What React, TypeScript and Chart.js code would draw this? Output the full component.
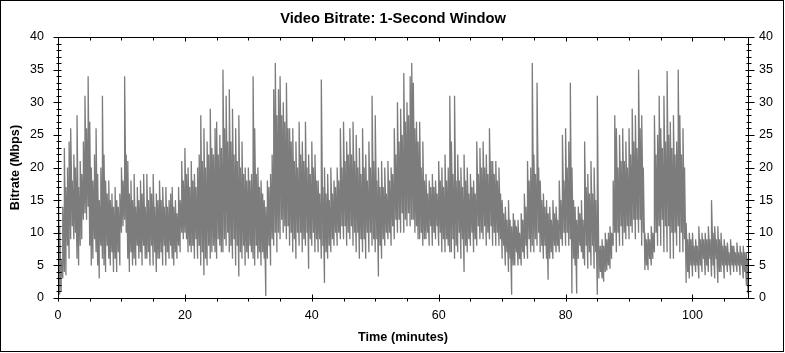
import React, { useEffect, useRef } from "react";
import { Chart, registerables } from "chart.js";

Chart.register(...registerables);

// Each slot covers 0.25 minute; for every slot the low and high bitrate seen in it
const slotMinutes = 0.25;

// [low, high] Mbps per slot, 4 slots per minute
const bitrateRange: number[][] = [
  /* 0 */ [10, 24], [0.5, 11], [1, 6], [3, 14],
  /* 1 */ [4, 23], [3.5, 17], [8, 20], [6, 24],
  /* 2 */ [9, 26], [11, 18], [9, 22], [10, 20],
  /* 3 */ [6, 28], [5, 17], [8, 21], [9, 19],
  /* 4 */ [12, 24], [13, 31], [12, 26], [14, 34],
  /* 5 */ [8, 27], [5, 20], [6, 18], [9, 22],
  /* 6 */ [7, 26], [5, 19], [3, 15], [8, 20],
  /* 7 */ [6, 31], [5, 22], [4, 18], [8, 16],
  /* 8 */ [6, 18], [5, 15], [7, 16], [4, 14],
  /* 9 */ [6, 17], [4, 15], [7, 14], [5, 16],
  /* 10 */ [10, 20], [11, 18], [12, 34], [10, 22],
  /* 11 */ [6, 21], [4, 16], [7, 18], [5, 15],
  /* 12 */ [6, 19], [5, 14], [8, 17], [6, 15],
  /* 13 */ [7, 18], [5, 16], [8, 19], [6, 14],
  /* 14 */ [6, 19], [7, 15], [5, 17], [8, 16],
  /* 15 */ [5, 19], [7, 14], [4, 16], [6, 15],
  /* 16 */ [6, 18], [7, 15], [5, 17], [8, 14],
  /* 17 */ [5, 17], [7, 14], [6, 15], [8, 16],
  /* 18 */ [6, 17], [5, 14], [7, 15], [6, 13],
  /* 19 */ [8, 17], [7, 15], [10, 21], [9, 18],
  /* 20 */ [10, 23], [9, 19], [7, 20], [8, 17],
  /* 21 */ [7, 21], [8, 18], [6, 19], [9, 17],
  /* 22 */ [6, 20], [8, 22], [5, 28], [7, 21],
  /* 23 */ [3.5, 26], [6, 20], [5, 24], [8, 22],
  /* 24 */ [6, 29], [7, 23], [8, 22], [7, 26],
  /* 25 */ [6, 27], [9, 22], [8, 25], [7, 23],
  /* 26 */ [7, 35], [9, 26], [8, 31], [10, 24],
  /* 27 */ [7, 32], [8, 24], [6, 29], [9, 22],
  /* 28 */ [5, 26], [8, 21], [3.3, 28], [7, 20],
  /* 29 */ [6, 24], [8, 19], [5, 20], [7, 18],
  /* 30 */ [6, 20], [8, 18], [7, 19], [6, 34],
  /* 31 */ [5, 26], [8, 19], [6, 20], [7, 17],
  /* 32 */ [5, 18], [7, 16], [6, 15], [0.3, 14],
  /* 33 */ [6, 18], [8, 17], [5, 19], [9, 22],
  /* 34 */ [8, 32], [10, 36], [7, 28], [10, 32],
  /* 35 */ [9, 34], [12, 28], [10, 30], [11, 27],
  /* 36 */ [9, 33], [11, 26], [8, 26], [10, 24],
  /* 37 */ [7, 26], [9, 21], [6, 24], [10, 20],
  /* 38 */ [8, 27], [10, 22], [7, 24], [9, 21],
  /* 39 */ [8, 27], [10, 20], [4.5, 22], [9, 19],
  /* 40 */ [8, 24], [10, 20], [7, 22], [9, 18],
  /* 41 */ [7, 18], [9, 16], [6, 33.5], [8, 17],
  /* 42 */ [2.3, 20], [7, 16], [6, 19], [8, 15],
  /* 43 */ [7, 20], [9, 16], [8, 18], [10, 17],
  /* 44 */ [8, 20], [10, 18], [9, 26], [11, 20],
  /* 45 */ [9, 27], [11, 21], [8, 24], [10, 22],
  /* 46 */ [9, 26], [11, 22], [8, 27], [10, 21],
  /* 47 */ [7, 25], [10, 20], [6, 23], [9, 19],
  /* 48 */ [7, 26], [9, 20], [6, 22], [10, 18],
  /* 49 */ [7, 24], [10, 20], [8, 31], [9, 21],
  /* 50 */ [7, 28], [9, 18], [3.3, 20], [8, 17],
  /* 51 */ [6, 21], [9, 17], [8, 20], [10, 16],
  /* 52 */ [9, 21], [10, 18], [8, 20], [11, 19],
  /* 53 */ [9, 26], [12, 22], [10, 30], [12, 24],
  /* 54 */ [10, 29], [13, 25], [10, 34.5], [12, 27],
  /* 55 */ [11, 30], [13, 28], [11, 34], [12, 36],
  /* 56 */ [12, 33], [10, 26], [11, 27], [9, 24],
  /* 57 */ [9, 27], [10, 20], [8, 24], [9, 18],
  /* 58 */ [9, 19], [10, 16], [8, 18], [11, 17],
  /* 59 */ [8, 19], [10, 17], [9, 18], [11, 16],
  /* 60 */ [8, 21], [10, 18], [7, 20], [9, 17],
  /* 61 */ [7, 22], [9, 18], [8, 20], [7, 31],
  /* 62 */ [7, 24], [9, 19], [6, 31], [8, 18],
  /* 63 */ [7, 22], [10, 18], [6, 20], [9, 17],
  /* 64 */ [4, 22], [8, 18], [7, 20], [9, 16],
  /* 65 */ [8, 19], [10, 17], [7, 18], [9, 16],
  /* 66 */ [8, 24], [11, 19], [9, 23], [10, 20],
  /* 67 */ [9, 24], [11, 20], [8, 22], [10, 19],
  /* 68 */ [9, 26], [11, 21], [8, 21], [10, 19],
  /* 69 */ [8, 21], [10, 18], [8, 20], [9, 16],
  /* 70 */ [6, 15], [8, 13], [5, 14], [7, 12],
  /* 71 */ [4, 15], [6, 12], [0.5, 11], [5, 13],
  /* 72 */ [5, 12], [7, 11], [5, 12], [6, 10],
  /* 73 */ [5, 13], [7, 12], [6, 16], [8, 14],
  /* 74 */ [6, 21], [9, 18], [7, 20], [8, 36],
  /* 75 */ [7, 22], [9, 19], [8, 33], [10, 20],
  /* 76 */ [7, 18], [8, 15], [6, 16], [8, 14],
  /* 77 */ [6, 15], [2.8, 13], [6, 14], [7, 12],
  /* 78 */ [6, 15], [8, 13], [7, 14], [8, 12],
  /* 79 */ [7, 18], [9, 15], [8, 25], [10, 18],
  /* 80 */ [8, 26], [10, 20], [8, 24], [9, 33],
  /* 81 */ [0.7, 20], [6, 15], [5, 14], [0.7, 12],
  /* 82 */ [6, 14], [8, 13], [7, 15], [6, 12],
  /* 83 */ [5, 24], [8, 17], [4.5, 19], [7, 16],
  /* 84 */ [5, 21], [8, 16], [4.5, 20], [7, 15],
  /* 85 */ [0.5, 31], [3, 8], [4, 8], [3, 9],
  /* 86 */ [2.5, 8], [4, 10], [4.2, 9], [5, 10],
  /* 87 */ [4.5, 11], [6, 10], [8, 18], [10, 28],
  /* 88 */ [7, 26], [10, 20], [8, 25], [11, 21],
  /* 89 */ [8, 26], [10, 21], [9, 24], [11, 20],
  /* 90 */ [9, 26], [11, 22], [10, 29], [12, 24],
  /* 91 */ [9, 28], [12, 23], [10, 35], [12, 26],
  /* 92 */ [8, 28], [10, 20], [4.3, 10], [5, 9],
  /* 93 */ [4.3, 10], [6, 9], [5, 11], [6, 10],
  /* 94 */ [7, 28], [10, 22], [8, 25], [11, 31],
  /* 95 */ [8, 26], [12, 23], [7, 31], [11, 24],
  /* 96 */ [7, 34.8], [11, 25], [6, 27], [10, 23],
  /* 97 */ [6, 28], [10, 22], [8, 24], [11, 35],
  /* 98 */ [7, 28], [10, 22], [7, 26], [9, 20],
  /* 99 */ [2.3, 11.5], [4, 9], [3, 10], [5, 9],
  /* 100 */ [3.3, 10], [5, 8], [4, 9], [5, 8],
  /* 101 */ [3, 11], [5, 9], [4, 10], [6, 9],
  /* 102 */ [3.5, 10], [5, 9], [4, 11], [6, 9],
  /* 103 */ [3.3, 15], [5, 10], [3, 11], [6, 9],
  /* 104 */ [2.3, 11], [4, 9], [4, 10], [5, 8],
  /* 105 */ [3, 9], [5, 8], [4, 8.5], [5, 7],
  /* 106 */ [3.5, 9], [5, 8], [4, 8], [5, 7],
  /* 107 */ [4, 8.5], [5, 7], [3.5, 8], [5, 7],
  /* 108 */ [3, 8], [4, 7], [2, 7], [0.7, 6],
];

const xTickValues: number[] = [0, 20, 40, 60, 80, 100];
const xMinorStep = 5;
const yTickValues: number[] = [0, 5, 10, 15, 20, 25, 30, 35, 40];
const yMinorStep = 1;
const xMax = 108.75;
const yMax = 40;

const titleText = "Video Bitrate: 1-Second Window";
const xTitleText = "Time (minutes)";
const yTitleText = "Bitrate (Mbps)";

const FONT = "'Liberation Sans', Arial, sans-serif";

const W = 785;
const H = 353;

const decorPlugin = {
  id: "decor",
  afterDraw(chart: any) {
    const ctx = chart.ctx as CanvasRenderingContext2D;
    const a = chart.chartArea;
    const xs = chart.scales.x;
    const ys = chart.scales.y;
    ctx.save();
    ctx.strokeStyle = "#000";
    ctx.lineWidth = 1;
    const L = Math.round(a.left) + 0.5;
    const R = Math.round(a.right) + 0.5;
    const T = Math.round(a.top) + 0.5;
    const B = Math.round(a.bottom) + 0.5;
    ctx.beginPath();
    ctx.rect(L, T, R - L, B - T);
    ctx.stroke();
    ctx.beginPath();
    for (let v = 0; v <= yMax + 1e-9; v += yMinorStep) {
      const py = Math.round(ys.getPixelForValue(v)) + 0.5;
      const major = v % 5 === 0;
      if (major) {
        ctx.moveTo(L - 5, py); ctx.lineTo(L + 3, py);
        ctx.moveTo(R - 3, py); ctx.lineTo(R + 6, py);
      } else {
        ctx.moveTo(L - 2, py); ctx.lineTo(L + 3, py);
        ctx.moveTo(R - 2, py); ctx.lineTo(R + 3, py);
      }
    }
    for (let v = 0; v <= xMax + 1e-9; v += xMinorStep) {
      const px = Math.round(xs.getPixelForValue(v)) + 0.5;
      const major = v % 20 === 0;
      if (major) {
        ctx.moveTo(px, B - 4); ctx.lineTo(px, B + 3);
        ctx.moveTo(px, T); ctx.lineTo(px, T + 4);
      } else {
        ctx.moveTo(px, B); ctx.lineTo(px, B + 3);
        ctx.moveTo(px, T); ctx.lineTo(px, T + 3);
      }
    }
    ctx.stroke();

    ctx.strokeRect(0.5, 0.5, W - 2, H - 2);

    ctx.fillStyle = "#000";
    ctx.textAlign = "center";
    ctx.textBaseline = "alphabetic";
    ctx.font = `bold 14.7px ${FONT}`;
    ctx.fillText(titleText, 393, 23);
    ctx.font = `bold 12.7px ${FONT}`;
    ctx.fillText(xTitleText, (a.left + a.right) / 2, 341);
    ctx.save();
    ctx.translate(19.3, (a.top + a.bottom) / 2);
    ctx.rotate(-Math.PI / 2);
    ctx.fillText(yTitleText, 0, 0);
    ctx.restore();
    ctx.restore();
  },
};

export default function App() {
  const ref = useRef<HTMLCanvasElement | null>(null);
  useEffect(() => {
    document.body.style.margin = "0";
    const canvas = ref.current;
    if (!canvas) return;
    // Each slot is drawn as a vertical stroke from its low up to its high value.
    const points: { x: number; y: number }[] = [];
    bitrateRange.forEach(([lo, hi], i) => {
      const x = i * slotMinutes;
      points.push({ x, y: lo }, { x, y: hi });
    });
    const tickFont = { family: FONT, size: 12.5 };
    const hiddenGrid = {
      display: true,
      drawOnChartArea: false,
      drawTicks: true,
      color: "rgba(0,0,0,0)",
    };
    const chart = new Chart(canvas, {
      type: "line",
      data: {
        datasets: [
          {
            data: points,
            borderColor: "#7c7c7c",
            borderWidth: 1.3,
            pointRadius: 0,
            tension: 0,
            fill: false,
          },
        ],
      },
      options: {
        animation: false,
        responsive: false,
        maintainAspectRatio: false,
        layout: { padding: { top: 37, left: 0, right: 0, bottom: 0 } },
        plugins: {
          legend: { display: false },
          tooltip: { enabled: false },
          title: { display: false },
        },
        scales: {
          x: {
            type: "linear",
            min: 0,
            max: xMax,
            afterBuildTicks: (s: any) => {
              s.ticks = xTickValues.map((v) => ({ value: v }));
            },
            ticks: { font: tickFont, color: "#000", padding: 6, maxRotation: 0, autoSkip: false },
            grid: { ...hiddenGrid, tickLength: 4 },
            border: { display: false },
            afterFit: (s: any) => {
              s.height = 55;
            },
          },
          y: {
            type: "linear",
            position: "left",
            min: 0,
            max: yMax,
            afterBuildTicks: (s: any) => {
              s.ticks = yTickValues.map((v) => ({ value: v }));
            },
            ticks: { font: tickFont, color: "#000", padding: 9 },
            grid: { ...hiddenGrid, tickLength: 5 },
            border: { display: false },
            afterFit: (s: any) => {
              s.width = 58;
            },
          },
          y2: {
            type: "linear",
            position: "right",
            min: 0,
            max: yMax,
            afterBuildTicks: (s: any) => {
              s.ticks = yTickValues.map((v) => ({ value: v }));
            },
            ticks: { font: tickFont, color: "#000", padding: 6 },
            grid: { ...hiddenGrid, tickLength: 5 },
            border: { display: false },
            afterFit: (s: any) => {
              s.width = W - 748;
            },
          },
        },
      },
      plugins: [decorPlugin],
    });
    return () => chart.destroy();
  }, []);
  return (
    <div style={{ position: "absolute", left: 0, top: 0, width: W, height: H, background: "#fff" }}>
      <canvas ref={ref} width={W} height={H} style={{ display: "block", width: W, height: H }} />
    </div>
  );
}
